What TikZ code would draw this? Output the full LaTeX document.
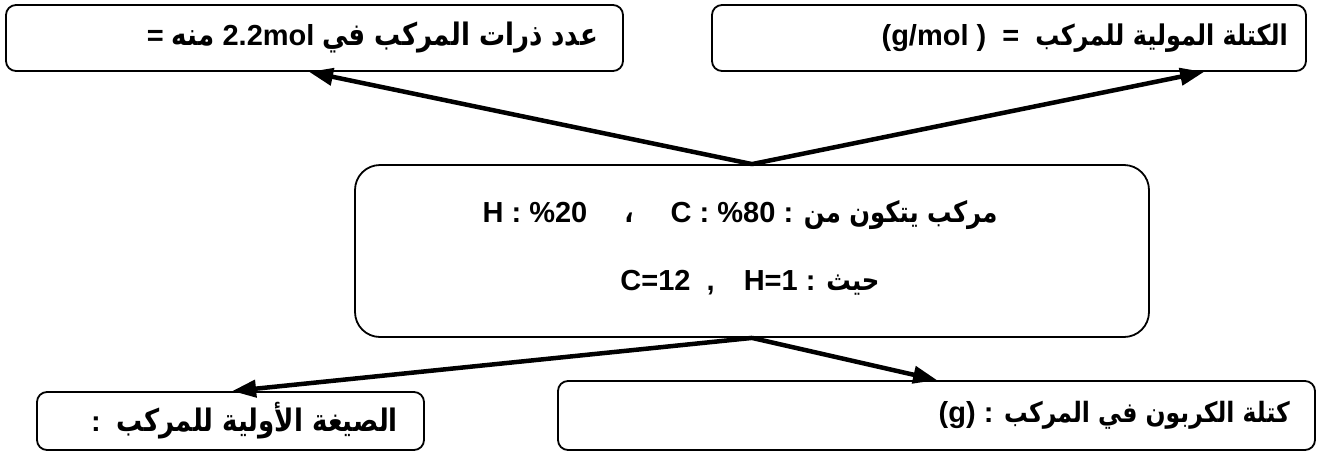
\documentclass[tikz,border=0pt]{standalone}
\usepackage{fontspec}
\setmainfont{Liberation Sans}
\newfontfamily\ar[Script=Arabic,FakeStretch=0.84]{DejaVu Sans}
\TeXXeTstate=1
\usetikzlibrary{arrows.meta,calc}
\newcommand\AR[2][29]{{\ar\fontsize{#1}{32}\selectfont\beginR #2\endR}}
\begin{document}
\begin{tikzpicture}[x=1pt,y=-1pt,
 box/.style={draw, line width=1.8pt, rounded corners=10pt, inner sep=0pt},
 arr/.style={line width=4.5pt, -{Triangle[length=24pt,width=17pt]}},
 lbl/.style={font=\bfseries\fontsize{29}{32}\selectfont, inner sep=0pt}]
\useasboundingbox (0,0) rectangle (1330,453);
% boxes
\node[box, minimum width=617pt, minimum height=66pt] (tl) at (314.5,38) {};
\node[box, minimum width=594pt, minimum height=66pt] (tr) at (1009,38) {};
\node[box, rounded corners=25pt, minimum width=794pt, minimum height=172pt] (c) at (752,251) {};
\node[box, minimum width=387pt, minimum height=58pt] (bl) at (230.5,421) {};
\node[box, minimum width=757pt, minimum height=69pt] (br) at (936.5,415.5) {};
% texts
\node[lbl, anchor=east] (tlt) at (598,38) {= \AR[31]{منه} 2.2mol \AR[31]{عدد ذرات المركب في}};
\node[lbl, anchor=east] (trt) at (1288,38) {(g/mol )\ \ =\ \ \AR[28.5]{الكتلة المولية للمركب}};
\node[lbl] (c1) at (740,215) {H : \%20\quad\ \AR{،}\quad\ C : \%80 : \AR{مركب يتكون من}};
\node[lbl] (c2) at (750,283) {C=12\ \ ,\quad H=1 : \AR{حيث}};
\node[lbl, anchor=east] (blt) at (398,421) {:\hspace{16pt}\AR[31]{الصيغة الأولية للمركب}};
\node[lbl, anchor=east] (brt) at (1290,415) {(g) : \AR[28]{كتلة الكربون في المركب}};
% arrows
\draw[arr] (c.north) -- ($(tl.south west)+(304,0)$);
\draw[arr] (c.north) -- ($(tr.south west)+(493,0)$);
\draw[arr] (c.south) -- ($(bl.north west)+(196,0)$);
\draw[arr] (c.south) -- ($(br.north west)+(380,0)$);
\end{tikzpicture}
\end{document}
